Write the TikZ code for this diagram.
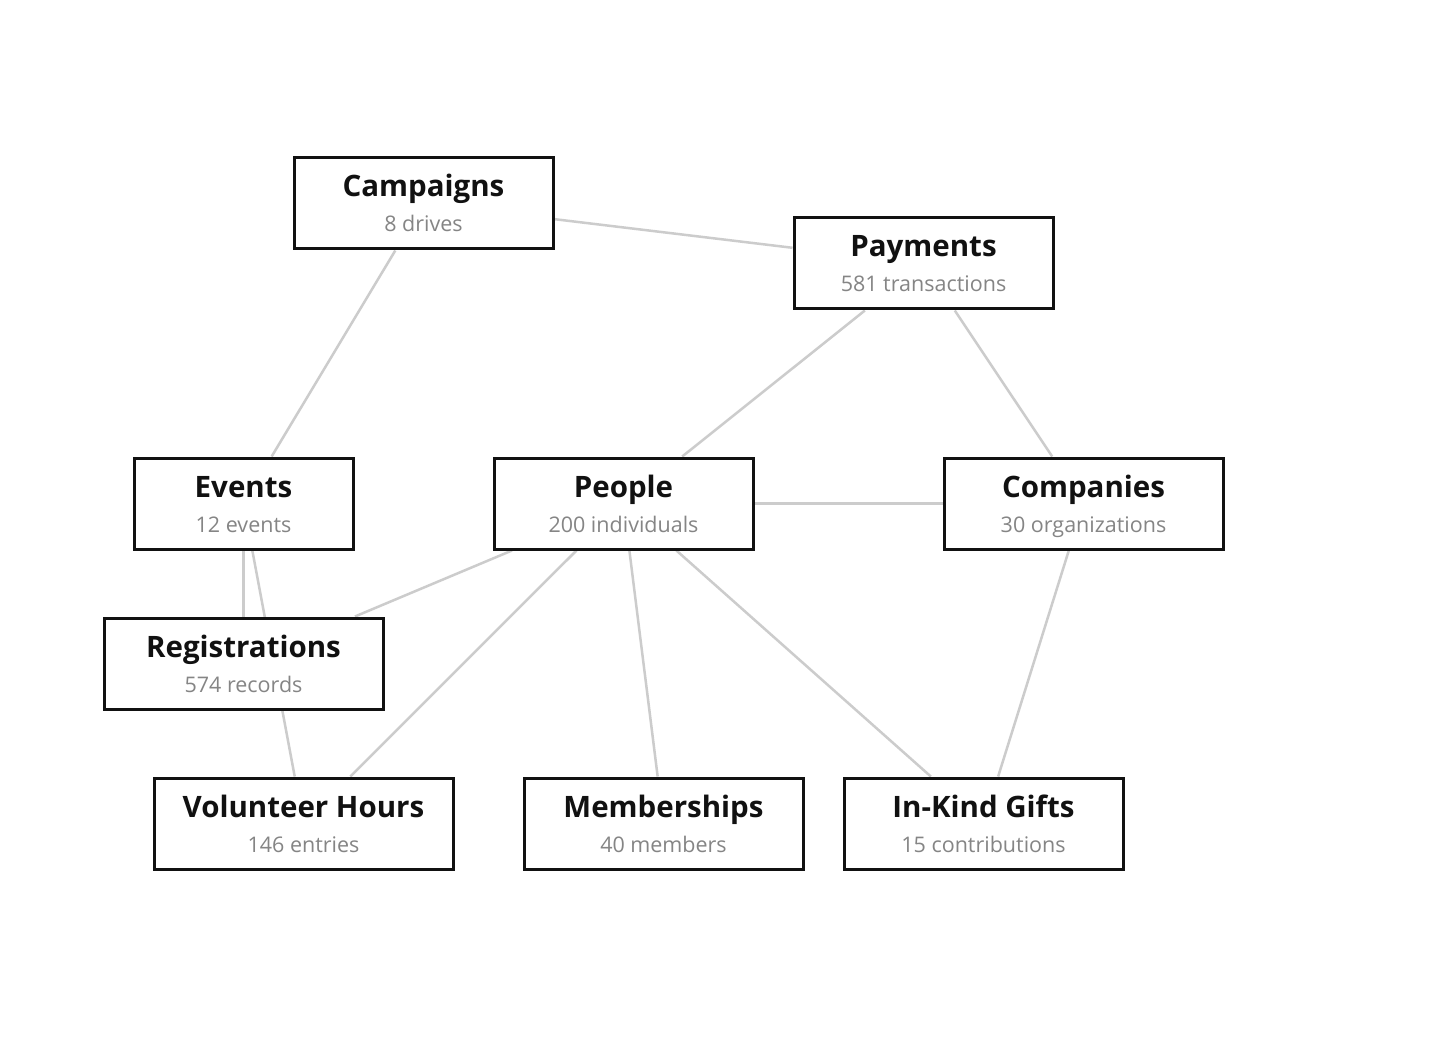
\documentclass[tikz,border=0pt]{standalone}
\usepackage{fontspec}
\setmainfont{Open Sans}
\usetikzlibrary{backgrounds}
\definecolor{edgegray}{HTML}{CCCCCC}
\definecolor{subgray}{HTML}{858585}
\definecolor{ink}{HTML}{111111}
\tikzset{
  entbox/.style={draw=ink, line width=3pt, fill=white, rectangle, inner sep=0pt, minimum height=91pt},
  titletext/.style={anchor=base, inner sep=0pt, text=ink, font=\fontsize{29.5}{34}\selectfont\bfseries},
  subtext/.style={anchor=base, inner sep=0pt, text=subgray, font=\fontsize{21.5}{26}\selectfont},
  edge/.style={draw=edgegray, line width=2.5pt}
}
\newcommand\ent[6]{%
  \node[entbox, minimum width=#4pt] (#1) at (#2,#3) {};
  \node[titletext] (#1-t) at ([yshift=6.5pt]#1.center) {#5};
  \node[subtext] (#1-s) at ([yshift=-28.5pt]#1.center) {#6};
}
\begin{document}
\begin{tikzpicture}[x=1pt, y=-1pt]
\useasboundingbox (0,0) rectangle (1448,1048);
\ent{camp}{423.5}{203.5}{259}{Campaigns}{8 drives}
\ent{pay}{923.5}{263.5}{259}{Payments}{581 transactions}
\ent{ev}{243.5}{503.5}{219}{Events}{12 events}
\ent{ppl}{623.5}{503.5}{259}{People}{200 individuals}
\ent{comp}{1083.5}{503.5}{279}{Companies}{30 organizations}
\ent{reg}{243.5}{663.5}{279}{Registrations}{574 records}
\ent{vh}{303.5}{823.5}{299}{Volunteer Hours}{146 entries}
\ent{mem}{663.5}{823.5}{279}{Memberships}{40 members}
\ent{gift}{983.5}{823.5}{279}{In-Kind Gifts}{15 contributions}
\begin{pgfonlayer}{background}
  \fill[white] (0,0) rectangle (1448,1048);
  \draw[edge] (camp) -- (pay);
  \draw[edge] (camp) -- (ev);
  \draw[edge] (pay) -- (ppl);
  \draw[edge] (pay) -- (comp);
  \draw[edge] (ppl) -- (comp);
  \draw[edge] (ev) -- (reg);
  \draw[edge] (ev) -- (vh);
  \draw[edge] (ppl) -- (reg);
  \draw[edge] (ppl) -- (vh);
  \draw[edge] (ppl) -- (mem);
  \draw[edge] (ppl) -- (gift);
  \draw[edge] (comp) -- (gift);
\end{pgfonlayer}
\end{tikzpicture}
\end{document}
